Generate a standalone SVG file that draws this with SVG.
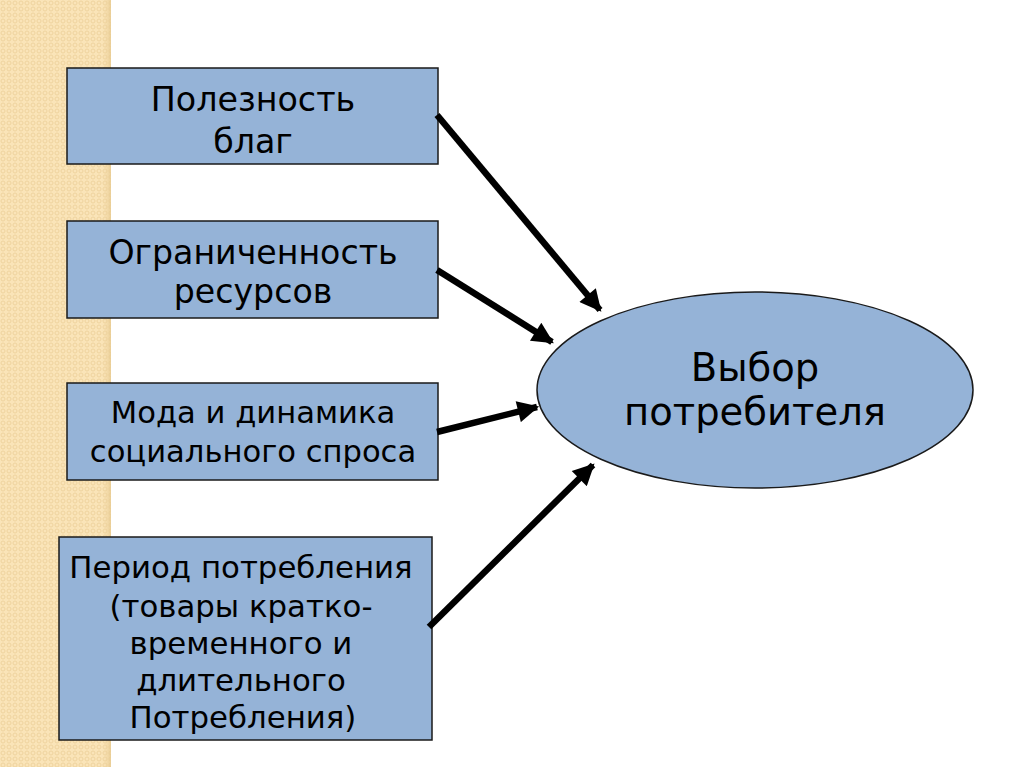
<svg xmlns="http://www.w3.org/2000/svg" width="1024" height="767" viewBox="0 0 1024 767">
  <defs>
    <pattern id="dots" x="0" y="0" width="6" height="6" patternUnits="userSpaceOnUse">
      <rect width="6" height="6" fill="#FAE4B8"/>
      <circle cx="3" cy="3" r="2" fill="none" stroke="#EDD19B" stroke-width="0.9"/>
    </pattern>
    <linearGradient id="edge" x1="0" y1="0" x2="1" y2="0">
      <stop offset="0" stop-color="#F3D9A6" stop-opacity="0"/>
      <stop offset="1" stop-color="#E6C98F"/>
    </linearGradient>
    <marker id="ah" viewBox="0 0 10 10" refX="9" refY="5" markerWidth="4" markerHeight="3.3" orient="auto" markerUnits="strokeWidth">
      <path d="M0,0 L10,5 L0,10 Z" fill="#000"/>
    </marker>
  </defs>
  <style>
    .box { fill: #95B3D7; stroke: #1A1A1A; stroke-width: 1.5; }
    .t { font-family: "DejaVu Sans", Verdana, sans-serif; fill: #000; text-anchor: middle; }
    .conn { stroke: #000; stroke-width: 6.5; fill: none; marker-end: url(#ah); }
  </style>
  <rect x="0" y="0" width="1024" height="767" fill="#FFFFFF"/>
  <rect x="0" y="0" width="111" height="767" fill="url(#dots)"/>
  <rect x="102" y="0" width="9" height="767" fill="url(#edge)" opacity="0.8"/>

  <g id="node-utility">
    <rect class="box" x="67" y="68" width="371" height="96"/>
    <text class="t" font-size="33.3" x="253" y="111">Полезность</text>
    <text class="t" font-size="33.3" x="253" y="153">благ</text>
  </g>
  <g id="node-limited">
    <rect class="box" x="67" y="221" width="371" height="97"/>
    <text class="t" font-size="33.2" x="253" y="264">Ограниченность</text>
    <text class="t" font-size="33.2" x="253" y="303">ресурсов</text>
  </g>
  <g id="node-fashion">
    <rect class="box" x="67" y="383" width="371" height="97"/>
    <text class="t" font-size="30.6" x="253" y="423">Мода и динамика</text>
    <text class="t" font-size="30.6" x="253" y="462">социального спроса</text>
  </g>
  <g id="node-period">
    <rect class="box" x="59" y="537" width="373" height="203"/>
    <text class="t" font-size="30.8" x="241" y="578">Период потребления</text>
    <text class="t" font-size="30.8" x="241" y="617">(товары кратко-</text>
    <text class="t" font-size="30.8" x="241" y="654">временного и</text>
    <text class="t" font-size="30.8" x="241" y="691">длительного</text>
    <text class="t" font-size="30.8" x="243" y="728">Потребления)</text>
  </g>
  <g id="node-choice">
    <ellipse class="box" cx="755" cy="390" rx="218" ry="98"/>
    <text class="t" font-size="38.5" x="755" y="381">Выбор</text>
    <text class="t" font-size="38.5" x="755" y="425">потребителя</text>
  </g>

  <g id="connectors">
    <line class="conn" x1="437" y1="115" x2="600" y2="310"/>
    <line class="conn" x1="437" y1="270" x2="552" y2="342"/>
    <line class="conn" x1="437" y1="432" x2="537" y2="407"/>
    <line class="conn" x1="429" y1="627" x2="593" y2="465"/>
  </g>
</svg>
